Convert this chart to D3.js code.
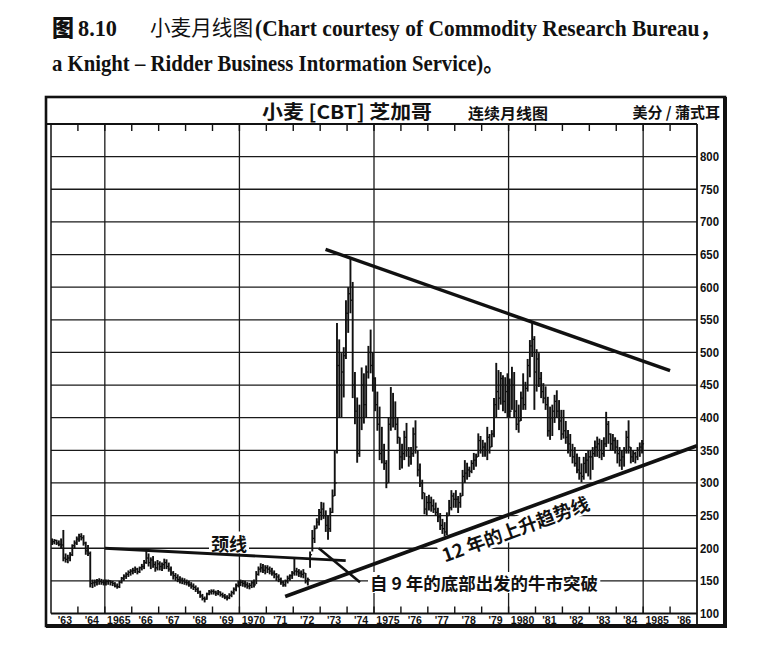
<!DOCTYPE html>
<html><head><meta charset="utf-8">
<script src="https://cdn.jsdelivr.net/npm/d3@7"></script>
<style>body{margin:0;background:#fff} svg{display:block}</style>
</head><body>
<svg id="c" width="761" height="651"></svg>
<script>
// ---------------- DATA ----------------
const startYear = 1963;
const yearLabels = ["'63","'64","1965","'66","'67","'68","'69","1970","'71","'72","'73","'74","1975","'76","'77","'78","'79","1980","'81","'82","'83","'84","1985","'86"];
const priceTicks = [100,150,200,250,300,350,400,450,500,550,600,650,700,750,800];
const gridYears = [1965,1970,1975,1980,1985];

// monthly highs / lows / closes (cents per bushel), Jan 1963 – Dec 1984
const monthHigh = [
 215,214,213,212,215,228,192,190,194,206,212,218,
 222,223,220,210,205,195,152,152,153,154,153,152,
 152,152,151,150,148,146,150,156,160,163,166,168,
 170,172,170,172,176,182,197,192,186,188,180,182,
 180,178,184,183,178,172,165,162,160,157,155,154,
 152,150,148,146,143,140,135,130,126,132,136,137,
 137,135,136,134,132,130,128,131,135,140,146,150,
 152,151,150,148,147,150,152,165,172,177,176,174,
 174,172,170,166,162,160,155,150,152,158,160,165,
 185,170,168,166,168,162,155,195,228,235,246,260,
 271,270,258,250,262,290,350,545,520,499,508,580,
 600,645,608,470,431,420,477,468,480,510,535,500,
 462,440,417,386,360,335,400,447,438,425,400,370,
 360,380,392,355,355,385,396,350,330,305,285,280,
 282,279,275,270,262,254,245,240,255,274,289,285,
 289,280,285,320,335,331,325,335,346,345,376,372,
 366,362,386,375,381,430,484,473,470,465,462,468,
 460,478,470,427,420,440,468,455,490,519,545,525,
 505,499,470,453,448,432,417,420,435,442,427,412,
 412,395,381,375,360,355,345,340,330,340,346,350,
 350,355,365,371,368,366,370,409,395,376,375,370,
 366,355,350,355,380,396,355,350,348,355,362,366
];
const monthLow = [
 205,206,205,203,200,180,178,177,180,188,200,205,
 210,212,204,190,188,140,139,141,143,144,144,143,
 143,144,143,142,140,138,139,146,150,153,156,158,
 160,162,160,162,166,168,176,172,168,170,164,166,
 166,165,168,168,164,158,152,150,148,146,145,144,
 143,141,138,136,133,130,124,120,117,121,128,129,
 129,127,128,126,124,122,120,122,125,129,134,140,
 142,141,140,138,137,139,140,145,158,163,162,160,
 162,160,158,154,150,148,144,141,141,146,150,153,
 158,158,156,155,154,146,143,170,195,208,230,235,
 243,245,225,213,225,254,280,345,400,400,431,490,
 530,560,430,390,331,340,381,391,400,460,468,440,
 410,380,335,330,320,292,300,380,385,381,360,320,
 322,335,340,325,328,340,345,310,294,275,252,250,
 258,256,254,250,240,228,222,218,220,250,258,262,
 262,254,262,280,300,305,309,315,320,325,340,345,
 340,340,335,345,355,370,401,412,420,410,407,401,
 400,412,400,381,377,395,412,412,440,462,493,412,
 440,447,430,422,412,371,366,372,392,400,381,366,
 368,360,345,340,330,325,315,305,301,305,315,310,
 305,320,340,340,338,335,340,355,360,350,350,345,
 330,325,320,325,345,345,330,332,330,335,340,345
];
const monthClose = [
 210,212,208,206,205,185,183,185,190,204,208,214,
 218,216,208,196,192,146,147,148,150,149,148,147,
 149,150,148,146,142,141,148,154,157,160,163,165,
 166,168,164,170,172,178,185,178,182,175,170,176,
 172,175,178,172,168,162,158,155,152,151,150,148,
 147,144,142,140,137,133,127,123,122,130,133,134,
 133,131,133,129,127,125,124,128,132,137,143,148,
 148,146,144,142,143,147,144,160,168,170,166,170,
 168,165,162,160,156,152,148,144,150,154,158,162,
 165,164,162,160,162,150,152,190,215,230,240,255,
 260,250,235,230,255,280,300,480,450,470,495,560,
 590,580,450,410,345,400,450,420,470,500,480,460,
 420,390,345,350,330,300,390,400,400,390,370,340,
 345,370,350,340,345,375,355,320,300,285,260,270,
 270,265,260,255,248,235,230,225,250,262,280,275,
 275,270,280,310,315,320,318,330,335,340,365,350,
 355,350,370,355,375,420,440,430,460,425,440,420,
 410,450,410,390,395,430,420,445,480,510,520,470,
 490,460,440,430,420,380,400,410,425,410,395,375,
 380,370,360,350,340,330,320,315,310,330,335,340,
 340,345,355,360,350,345,360,390,375,360,365,355,
 345,335,340,350,370,355,340,345,340,350,355,360
];

// trend / pattern lines: [year, price]
const resistanceLine = [[1973.2, 658], [1986.0, 472]];
const supportLine    = [[1971.7, 126], [1987.0, 357]];
const neckline       = [[1965.0, 200], [1973.95, 181]];
const breakoutPointer = [[1972.95, 200], [1974.48, 148]];

const captionLine1 = ["图", "8.10", "小麦月线图", "(Chart courtesy of Commodity Research Bureau，"];
const captionLine2 = "a Knight – Ridder Business Intormation Service)。";
const chartTitle = "小麦 [CBT] 芝加哥";
const chartSubtitle = "连续月线图";
const unitLabel = "美分 / 蒲式耳";
const necklineLabel = "颈线";
const supportLabel = "12 年的上升趋势线";
const breakoutLabel = "自 9 年的底部出发的牛市突破";

// ---------------- DRAW ----------------
const svg = d3.select('#c');
const CJK = "'Noto Sans CJK SC','Noto Sans',sans-serif";
const SERIF = "'Liberation Serif','Noto Sans CJK SC',serif";
const SANS = "'Liberation Sans','Arimo',sans-serif";
const INK = '#111';

const x = d3.scaleLinear().domain([1963, 1987]).range([51, 697]);
const y = d3.scaleLinear().domain([100, 850]).range([613.5, 124]);
const L = 51, R = 697, T = 124, B = 613.5;

// caption
function txt(str, px, py, size, family, weight, len){
  const t = svg.append('text').attr('x', px).attr('y', py).text(str)
    .attr('font-size', size).attr('font-family', family).attr('font-weight', weight).attr('fill', '#111');
  if (len) t.attr('textLength', len).attr('lengthAdjust', 'spacingAndGlyphs');
  return t;
}
txt(captionLine1[0], 52, 36, 23, CJK, 900, 22);
txt(captionLine1[1], 78, 36, 23, SERIF, 700, 39);
txt(captionLine1[2], 150, 35, 21, CJK, 400, 103);
txt(captionLine1[3], 255, 36, 23, SERIF, 700, 466);
txt(captionLine2, 52, 71, 23, SERIF, 700, 452);

// grid
const grid = svg.append('g').attr('stroke', '#1a1a1a').attr('stroke-width', 1.3);
grid.selectAll('.h').data(priceTicks.filter(p => p > 100)).join('line')
  .attr('x1', L).attr('x2', R).attr('y1', d => y(d)).attr('y2', d => y(d));
grid.selectAll('.v').data(gridYears).join('line')
  .attr('x1', d => x(d)).attr('x2', d => x(d)).attr('y1', T).attr('y2', B);

// year boundary ticks (top and bottom)
const yearBounds = d3.range(startYear + 1, 1987);
const ticks = svg.append('g').attr('stroke', INK).attr('stroke-width', 1.4);
ticks.selectAll('.tt').data(yearBounds).join('line')
  .attr('x1', d => x(d)).attr('x2', d => x(d)).attr('y1', T).attr('y2', T + 7);
ticks.selectAll('.bt').data(yearBounds).join('line')
  .attr('x1', d => x(d)).attr('x2', d => x(d)).attr('y1', B - 7).attr('y2', B);

// axes lines
const ax = svg.append('g').attr('stroke', INK);
ax.append('line').attr('x1', 46).attr('x2', R).attr('y1', T).attr('y2', T).attr('stroke-width', 1.8);
ax.append('line').attr('x1', L).attr('x2', L).attr('y1', T).attr('y2', B).attr('stroke-width', 1.5);
ax.append('line').attr('x1', R).attr('x2', R).attr('y1', T).attr('y2', 626).attr('stroke-width', 1.8);
ax.append('line').attr('x1', L).attr('x2', R).attr('y1', B).attr('y2', B).attr('stroke-width', 1.8);

// x labels
const xAxis = d3.axisBottom(x)
  .tickValues(yearLabels.map((d, i) => startYear + i + 0.5))
  .tickFormat((d, i) => yearLabels[i]).tickSize(0).tickPadding(3);
const gx = svg.append('g').attr('transform', `translate(0,${B})`).call(xAxis);
gx.select('.domain').remove();
gx.selectAll('text').attr('font-size', 10.5).attr('font-weight', 700).attr('font-family', SANS).attr('fill', INK);

// right labels
const yAxis = d3.axisRight(y).tickValues(priceTicks).tickSize(0).tickPadding(3);
const gy = svg.append('g').attr('transform', `translate(${R},0)`).call(yAxis);
gy.select('.domain').remove();
gy.selectAll('text').attr('font-size', 12).attr('font-weight', 700).attr('font-family', SANS).attr('fill', INK)
  .attr('textLength', 19).attr('lengthAdjust', 'spacingAndGlyphs');

// OHLC bars
const bars = d3.range(monthHigh.length).map(i => ({
  t: startYear + (i + 0.5) / 12, h: monthHigh[i], l: monthLow[i], c: monthClose[i]
}));
const gb = svg.append('g').attr('stroke', INK);
gb.selectAll('.bar').data(bars).join('line')
  .attr('x1', d => x(d.t)).attr('x2', d => x(d.t))
  .attr('y1', d => y(d.h)).attr('y2', d => y(d.l)).attr('stroke-width', 1.9);
gb.selectAll('.cl').data(bars).join('line')
  .attr('x1', d => x(d.t)).attr('x2', d => x(d.t) + 2)
  .attr('y1', d => y(d.c)).attr('y2', d => y(d.c)).attr('stroke-width', 1.3);

// labels with white backing
function boxedText(parent, str, px, py, size, anchor){
  const g = parent.append('g');
  const r = g.append('rect').attr('fill', '#fff');
  const t = g.append('text').attr('x', px).attr('y', py).text(str)
    .attr('font-size', size).attr('font-family', CJK).attr('font-weight', 700)
    .attr('fill', '#111').attr('text-anchor', anchor || 'start').attr('dominant-baseline', 'central');
  const bb = t.node().getBBox();
  r.attr('x', bb.x - 2).attr('y', bb.y + 2).attr('width', bb.width + 4).attr('height', bb.height - 4);
  return t;
}
boxedText(svg, necklineLabel, 229, 542.5, 18, 'middle');
boxedText(svg, breakoutLabel, 370, 582.5, 17.5, 'start').attr('textLength', 228).attr('lengthAdjust', 'spacingAndGlyphs');

// rotated support label
const sx1 = x(supportLine[0][0]), sy1 = y(supportLine[0][1]);
const sx2 = x(supportLine[1][0]), sy2 = y(supportLine[1][1]);
const ang = Math.atan2(sy2 - sy1, sx2 - sx1) * 180 / Math.PI;
const cx = 510, cyLine = sy1 + (cx - sx1) * (sy2 - sy1) / (sx2 - sx1);
const gr = svg.append('g').attr('transform', `translate(${cx},${cyLine}) rotate(${ang})`);
boxedText(gr, supportLabel, 0, 15, 18.5, 'middle');

// trend lines
const line = d3.line().x(d => x(d[0])).y(d => y(d[1]));
svg.append('path').attr('d', line(resistanceLine)).attr('stroke', INK).attr('stroke-width', 3.4).attr('fill', 'none');
svg.append('path').attr('d', line(supportLine)).attr('stroke', INK).attr('stroke-width', 3.6).attr('fill', 'none');
svg.append('path').attr('d', line(neckline)).attr('stroke', INK).attr('stroke-width', 2.8).attr('fill', 'none');
svg.append('path').attr('d', line(breakoutPointer)).attr('stroke', INK).attr('stroke-width', 2.6).attr('fill', 'none');

// header inside frame
txt(chartTitle, 262, 119, 19, CJK, 700, 170);
txt(chartSubtitle, 468, 119, 15, CJK, 700, 80);
txt(unitLabel, 720, 118, 15, CJK, 700).attr('text-anchor', 'end');

// frame
svg.append('rect').attr('x', 46).attr('y', 97).attr('width', 679).attr('height', 529)
  .attr('fill', 'none').attr('stroke', INK).attr('stroke-width', 2.6);
svg.append('line').attr('x1', 725).attr('x2', 725).attr('y1', 97).attr('y2', 628).attr('stroke', INK).attr('stroke-width', 4);
svg.append('line').attr('x1', 46).attr('x2', 727).attr('y1', 626).attr('y2', 626).attr('stroke', INK).attr('stroke-width', 4);
</script>
</body></html>
